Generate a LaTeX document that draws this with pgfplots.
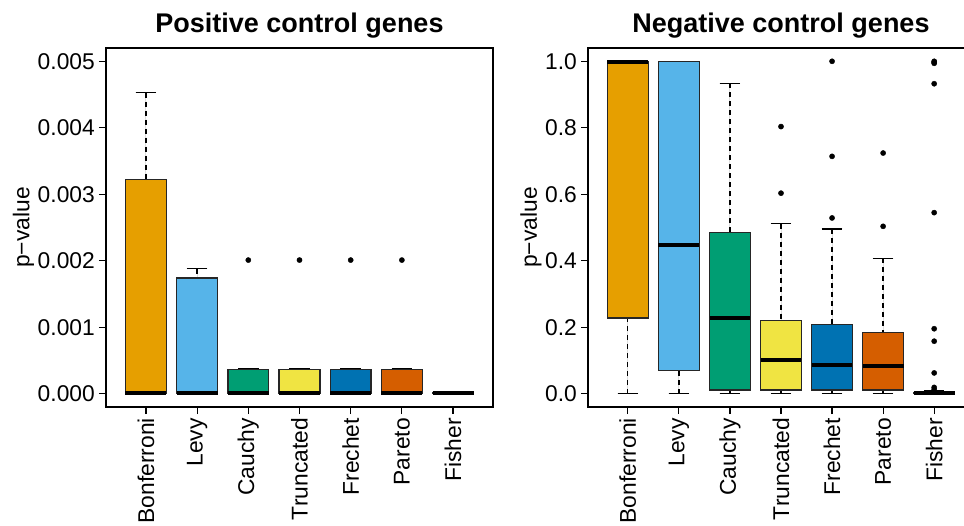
\documentclass[border=0pt]{standalone}
\usepackage{fontspec}
\setmainfont{Liberation Sans}
\usepackage{pgfplots}
\usepgfplotslibrary{statistics}
\pgfplotsset{compat=1.18}

\definecolor{cOrange}{HTML}{E69F00}
\definecolor{cSky}{HTML}{56B4E9}
\definecolor{cGreen}{HTML}{009E73}
\definecolor{cYellow}{HTML}{F0E442}
\definecolor{cBlue}{HTML}{0072B2}
\definecolor{cVerm}{HTML}{D55E00}
\definecolor{cPurple}{HTML}{CC79A7}

\pgfplotsset{
  rbox/.style={
    scale only axis, height=359pt,
    xmin=0.22, xmax=7.78,
    xtick={1,...,7},
    xticklabels={Bonferroni,Levy,Cauchy,Truncated,Frechet,Pareto,Fisher},
    xtick pos=bottom, ytick pos=left,
    tick align=outside, major tick length=7pt,
    tick style={black, line width=1.2pt},
    axis line style={line width=1.3pt},
    font=\fontsize{22.8}{27}\selectfont,
    /pgf/number format/assume math mode=true,
    xticklabel style={rotate=90, anchor=east, inner sep=4pt},
    yticklabel style={inner sep=4pt},
    scaled y ticks=false,
    title style={font=\fontsize{27}{32}\selectfont\bfseries, anchor=base, at={(0.5,1)}, yshift=9pt},
    ylabel style={yshift=-4pt},
    clip=false,
    boxplot/draw direction=y,
    boxplot/box extend=0.8,
    boxplot/whisker extend=0.4,
    boxplot/draw/box/.code={
      \draw[line width=1.4pt, draw=black!85]
        (boxplot box cs:\pgfplotsboxplotvalue{lower quartile},0)
        rectangle
        (boxplot box cs:\pgfplotsboxplotvalue{upper quartile},1);
    },
    boxplot/draw/median/.code={
      \draw[line width=4pt, black]
        (boxplot box cs:\pgfplotsboxplotvalue{median},0)
        --
        (boxplot box cs:\pgfplotsboxplotvalue{median},1);
    },
    boxplot/draw/lower whisker/.code={
      \draw[line width=1.3pt, black, dash pattern=on 5pt off 4pt]
        (boxplot box cs:\pgfplotsboxplotvalue{lower whisker},0.5)
        --
        (boxplot box cs:\pgfplotsboxplotvalue{lower quartile},0.5);
      \draw[line width=1.3pt, black]
        (boxplot whisker cs:\pgfplotsboxplotvalue{lower whisker},0)
        --
        (boxplot whisker cs:\pgfplotsboxplotvalue{lower whisker},1);
    },
    boxplot/draw/upper whisker/.code={
      \draw[line width=1.3pt, black, dash pattern=on 5pt off 4pt]
        (boxplot box cs:\pgfplotsboxplotvalue{upper whisker},0.5)
        --
        (boxplot box cs:\pgfplotsboxplotvalue{upper quartile},0.5);
      \draw[line width=1.3pt, black]
        (boxplot whisker cs:\pgfplotsboxplotvalue{upper whisker},0)
        --
        (boxplot whisker cs:\pgfplotsboxplotvalue{upper whisker},1);
    },
  },
  outl/.style={only marks, mark=*, mark size=2.6pt, black},
}

\begin{document}
\begin{tikzpicture}

% Positive control genes -- values in units of 1e-3 (TeX cannot scale 0.005 to 359pt)
\begin{axis}[rbox,
  at={(106pt,118pt)}, anchor=south west, width=387pt,
  ymin=-0.2, ymax=5.2,
  ytick={0,1,2,3,4,5},
  yticklabels={0.000,0.001,0.002,0.003,0.004,0.005},
  title={Positive control genes},
  ylabel={p\textminus value},
]
\addplot[fill=cOrange, boxplot prepared={draw position=1, lower whisker=0, lower quartile=0, median=0.01, upper quartile=3.22, upper whisker=4.53}] coordinates {};
\addplot[fill=cSky, boxplot prepared={draw position=2, lower whisker=0, lower quartile=0, median=0.01, upper quartile=1.74, upper whisker=1.88}] coordinates {};
\addplot[fill=cGreen, boxplot prepared={draw position=3, lower whisker=0, lower quartile=0, median=0.01, upper quartile=0.36, upper whisker=0.37}] coordinates {};
\addplot[fill=cYellow, boxplot prepared={draw position=4, lower whisker=0, lower quartile=0, median=0.01, upper quartile=0.36, upper whisker=0.37}] coordinates {};
\addplot[fill=cBlue, boxplot prepared={draw position=5, lower whisker=0, lower quartile=0, median=0.01, upper quartile=0.36, upper whisker=0.37}] coordinates {};
\addplot[fill=cVerm, boxplot prepared={draw position=6, lower whisker=0, lower quartile=0, median=0.01, upper quartile=0.36, upper whisker=0.37}] coordinates {};
\addplot[fill=cPurple, boxplot prepared={draw position=7, lower whisker=0, lower quartile=0, median=0.005, upper quartile=0.01, upper whisker=0.01}] coordinates {};
\addplot[outl] coordinates {(3,2.01) (4,2.01) (5,2.01) (6,2.01)};
\end{axis}

% Negative control genes
\begin{axis}[rbox,
  at={(588pt,118pt)}, anchor=south west, width=386pt,
  ymin=-0.04, ymax=1.04,
  ytick={0,0.2,0.4,0.6,0.8,1.0},
  yticklabel style={/pgf/number format/fixed, /pgf/number format/fixed zerofill, /pgf/number format/precision=1},
  title={Negative control genes},
  ylabel={p\textminus value},
]
\addplot[fill=cOrange, boxplot prepared={draw position=1, lower whisker=0, lower quartile=0.2275, median=0.997, upper quartile=1.0, upper whisker=1.0}] coordinates {};
\addplot[fill=cSky, boxplot prepared={draw position=2, lower whisker=0, lower quartile=0.0695, median=0.447, upper quartile=1.0, upper whisker=1.0}] coordinates {};
\addplot[fill=cGreen, boxplot prepared={draw position=3, lower whisker=0, lower quartile=0.011, median=0.2287, upper quartile=0.4844, upper whisker=0.9335}] coordinates {};
\addplot[fill=cYellow, boxplot prepared={draw position=4, lower whisker=0, lower quartile=0.011, median=0.1027, upper quartile=0.2205, upper whisker=0.5116}] coordinates {};
\addplot[fill=cBlue, boxplot prepared={draw position=5, lower whisker=0, lower quartile=0.011, median=0.0876, upper quartile=0.2075, upper whisker=0.4955}] coordinates {};
\addplot[fill=cVerm, boxplot prepared={draw position=6, lower whisker=0, lower quartile=0.011, median=0.0825, upper quartile=0.1843, upper whisker=0.4069}] coordinates {};
\addplot[fill=cPurple, boxplot prepared={draw position=7, lower whisker=0, lower quartile=0, median=0.001, upper quartile=0.003, upper whisker=0.008}] coordinates {};
\addplot[outl] coordinates {
  (4,0.8036) (4,0.6033)
  (5,1.0) (5,0.714) (5,0.5287)
  (6,0.724) (6,0.5035)
  (7,1.0) (7,0.997) (7,0.994) (7,0.9325) (7,0.5447) (7,0.1954) (7,0.158) (7,0.0625) (7,0.019) (7,0.013)
};
\end{axis}

\pgfresetboundingbox
\path (0pt,0pt) rectangle (964pt,525pt);
\end{tikzpicture}
\end{document}
